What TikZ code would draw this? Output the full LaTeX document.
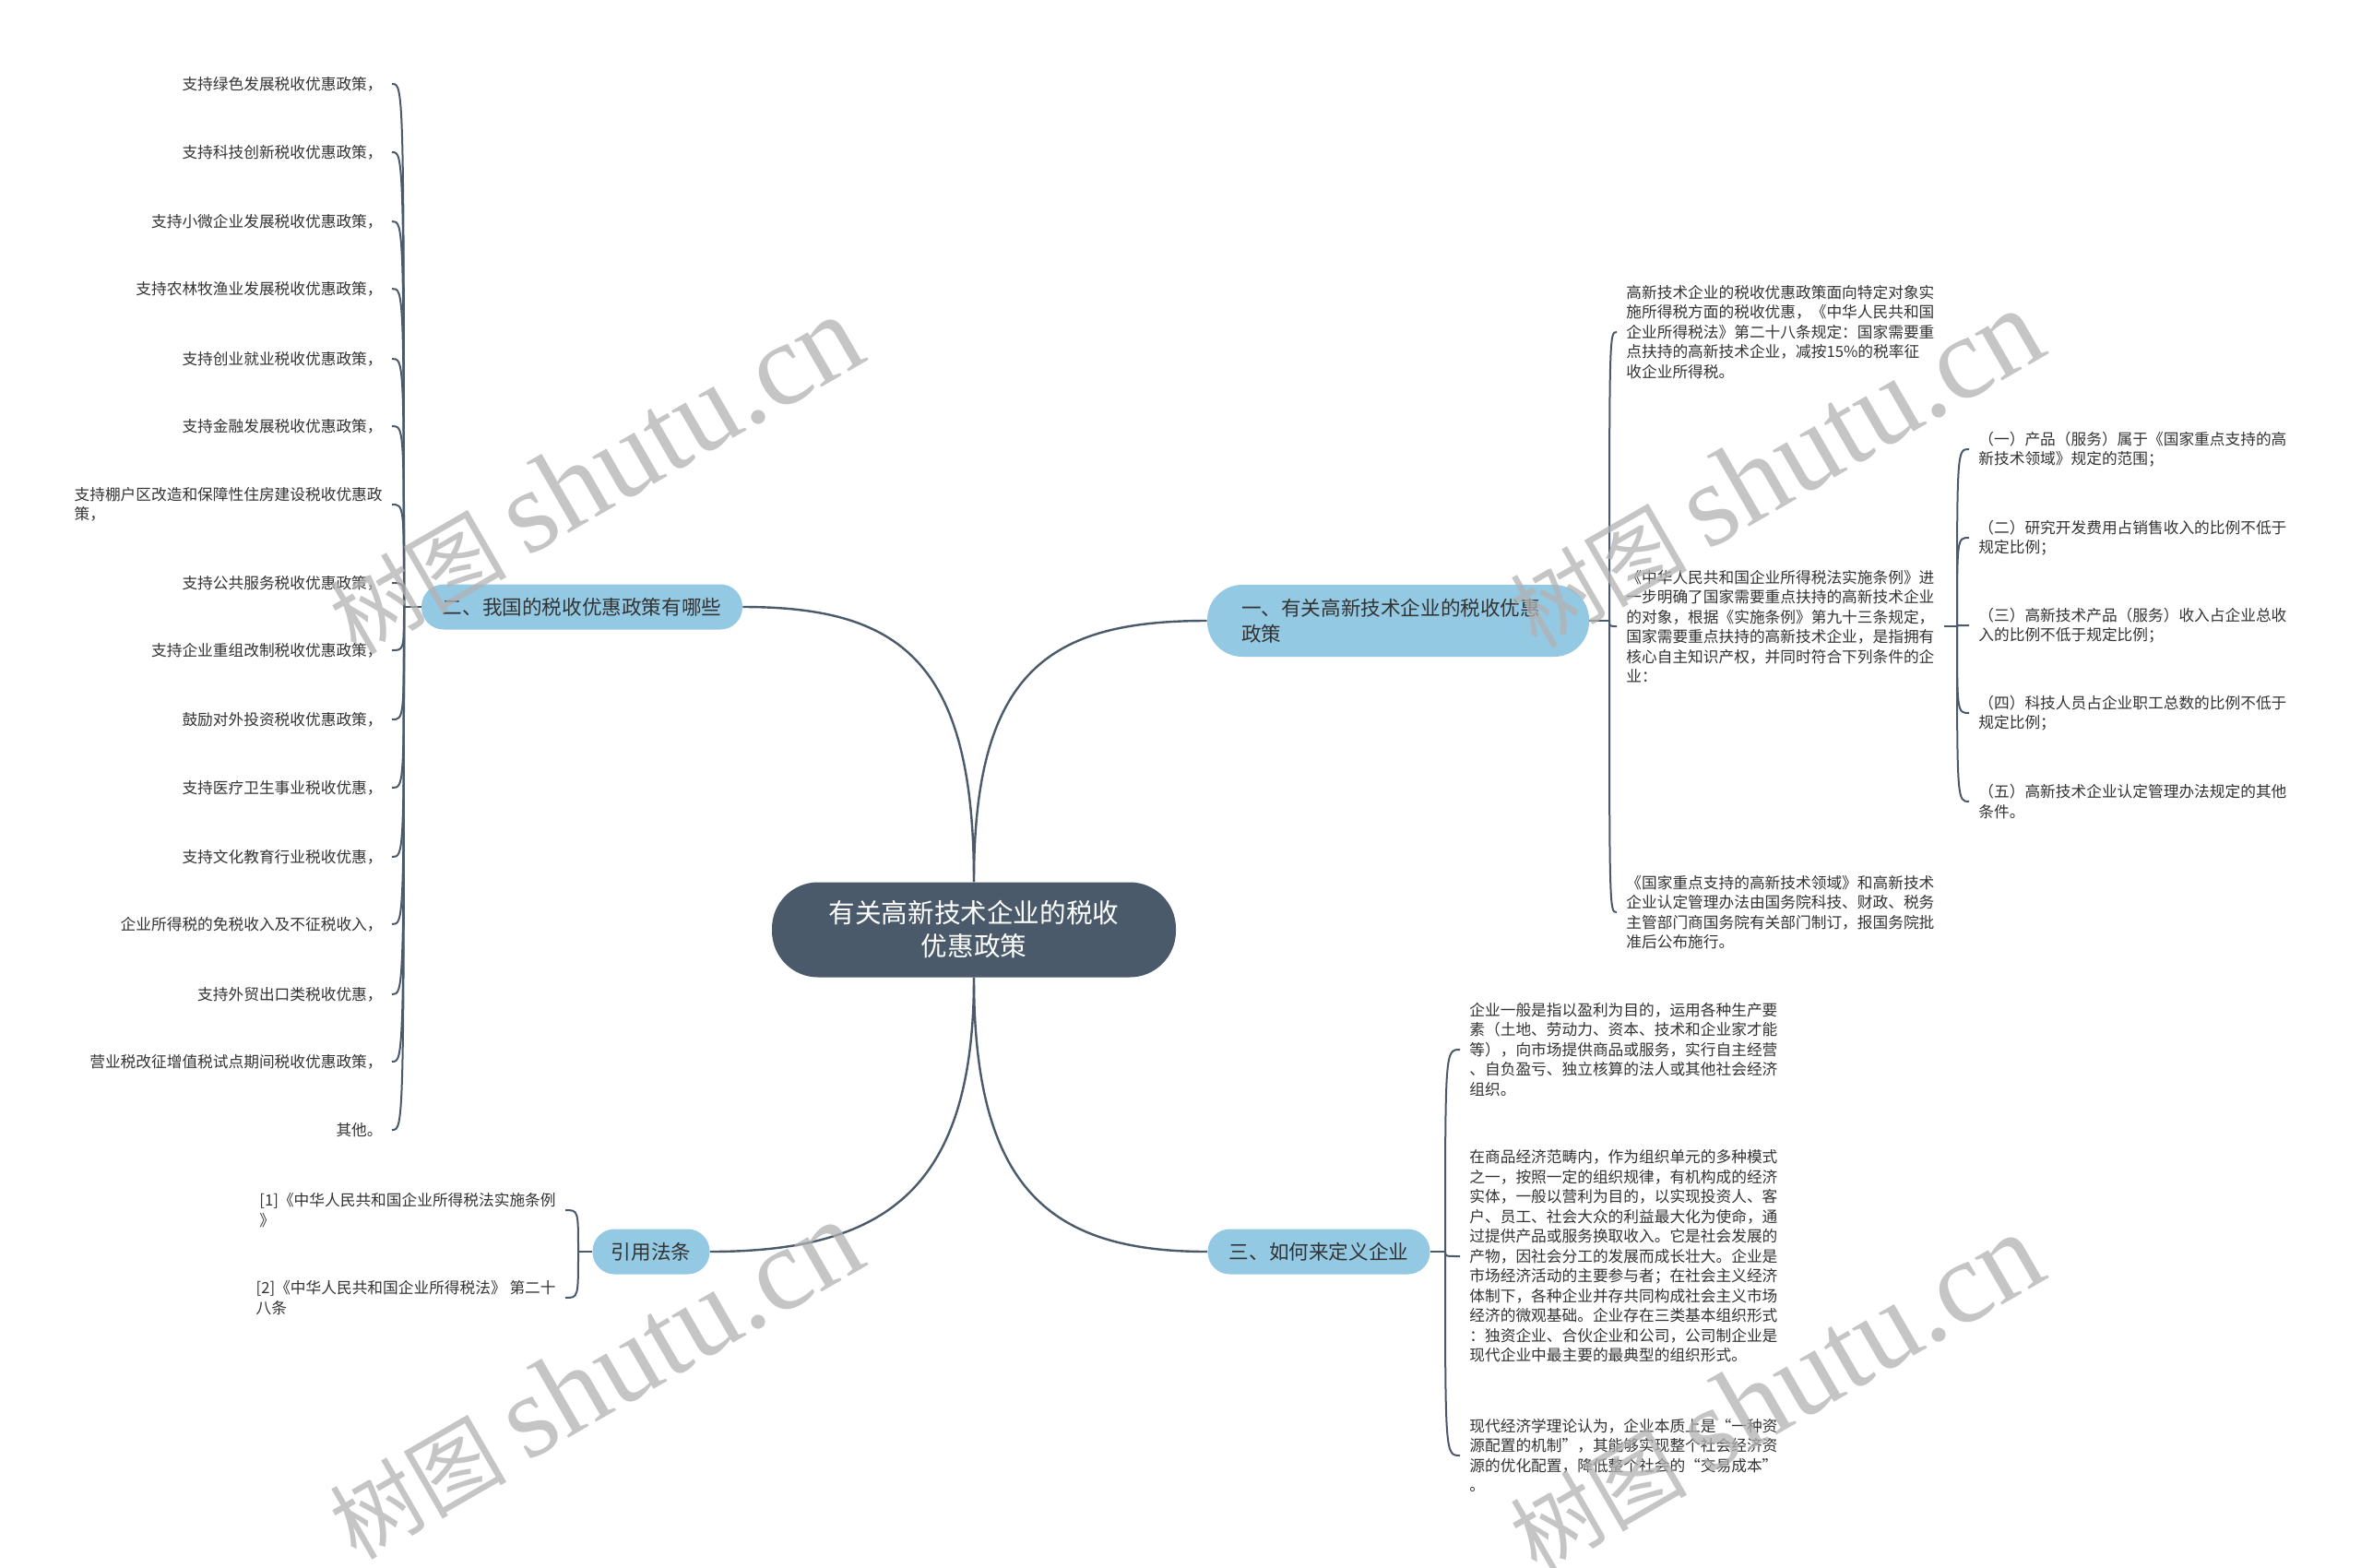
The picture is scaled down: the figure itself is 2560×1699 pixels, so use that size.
\documentclass[tikz,border=0pt]{standalone}
\usepackage{fontspec}
\setmainfont{Noto Sans CJK SC}
\newfontfamily\markfont{Liberation Serif}
\usepackage{xcolor}
\usepackage{tikz}

\definecolor{hubslate}{HTML}{4A5A6A}
\definecolor{topicblue}{HTML}{94C9E3}
\definecolor{twiggray}{HTML}{4A5A6A}
\definecolor{inkgray}{HTML}{333333}

\begin{document}
\begin{tikzpicture}[x=0.5pt,y=-0.5pt,
    hub/.style={fill=hubslate,text=white,rounded corners=25pt,minimum width=219pt,minimum height=51.5pt,align=center,font=\fontsize{14.3}{18}\selectfont},
    topic/.style={fill=topicblue,text=inkgray,rounded corners=12pt,minimum height=24.5pt,inner xsep=0pt,font=\fontsize{10.8}{14}\selectfont},
    leafl/.style={anchor=east,align=left,text=inkgray,inner xsep=5pt,inner ysep=1pt,font=\fontsize{8.35}{10.75}\selectfont},
    leafr/.style={leafl,anchor=west},
    hublink/.style={draw=twiggray,line width=1.2pt},
    twig/.style={draw=twiggray,line width=1pt},
    wmark/.style={text=black!30,opacity=0.75,rotate=30,font=\fontsize{48}{48}\selectfont}]
  \fill[white] (0,0) rectangle (2560,1699);
  \useasboundingbox (0,0) rectangle (2560,1699);

  % centre and main topics
  \node[hub] (hub) at (1056,1008) {有关高新技术企业的税收\\优惠政策};
  \node[topic,minimum width=207pt,minimum height=39pt,rounded corners=19pt,align=left,text width=170pt] (b1) at (1516,673) {一、有关高新技术企业的税收优惠\\政策};
  \node[topic,minimum width=174pt] (b2) at (631,658) {二、我国的税收优惠政策有哪些};
  \node[topic,minimum width=120.5pt] (b3) at (1430,1357) {三、如何来定义企业};
  \node[topic,minimum width=63.5pt] (b4) at (706,1357) {引用法条};

  \draw[hublink] (hub.north) .. controls +(0,-230) and +(-170,0) .. (b1.west);
  \draw[hublink] (hub.north) .. controls +(0,-240) and +(170,0) .. (b2.east);
  \draw[hublink] (hub.south) .. controls +(0,230) and +(-170,0) .. (b3.west);
  \draw[hublink] (hub.south) .. controls +(0,230) and +(190,0) .. (b4.east);

  % topic 2: policies
  \node[leafl] (l1) at (425,91) {支持绿色发展税收优惠政策，};
  \node[leafl] (l2) at (425,165) {支持科技创新税收优惠政策，};
  \node[leafl] (l3) at (425,240) {支持小微企业发展税收优惠政策，};
  \node[leafl] (l4) at (425,313) {支持农林牧渔业发展税收优惠政策，};
  \node[leafl] (l5) at (425,389) {支持创业就业税收优惠政策，};
  \node[leafl] (l6) at (425,462) {支持金融发展税收优惠政策，};
  \node[leafl] (l7) at (425,547) {支持棚户区改造和保障性住房建设税收优惠政\\策，};
  \node[leafl] (l8) at (425,632) {支持公共服务税收优惠政策，};
  \node[leafl] (l9) at (425,705) {支持企业重组改制税收优惠政策，};
  \node[leafl] (l10) at (425,780) {鼓励对外投资税收优惠政策，};
  \node[leafl] (l11) at (425,854) {支持医疗卫生事业税收优惠，};
  \node[leafl] (l12) at (425,929) {支持文化教育行业税收优惠，};
  \node[leafl] (l13) at (425,1002) {企业所得税的免税收入及不征税收入，};
  \node[leafl] (l14) at (425,1078) {支持外贸出口类税收优惠，};
  \node[leafl] (l15) at (425,1151) {营业税改征增值税试点期间税收优惠政策，};
  \node[leafl] (l16) at (425,1225) {其他。};

  \coordinate (b2j) at (438,658);
  \draw[twig] (b2.west) -- (b2j);
  \draw[twig] (b2j) .. controls (b2j |- l1.east) and (b2j |- l1.east) .. (l1.east);
  \draw[twig] (b2j) .. controls (b2j |- l2.east) and (b2j |- l2.east) .. (l2.east);
  \draw[twig] (b2j) .. controls (b2j |- l3.east) and (b2j |- l3.east) .. (l3.east);
  \draw[twig] (b2j) .. controls (b2j |- l4.east) and (b2j |- l4.east) .. (l4.east);
  \draw[twig] (b2j) .. controls (b2j |- l5.east) and (b2j |- l5.east) .. (l5.east);
  \draw[twig] (b2j) .. controls (b2j |- l6.east) and (b2j |- l6.east) .. (l6.east);
  \draw[twig] (b2j) .. controls (b2j |- l7.east) and (b2j |- l7.east) .. (l7.east);
  \draw[twig] (b2j) .. controls (b2j |- l8.east) and (b2j |- l8.east) .. (l8.east);
  \draw[twig] (b2j) .. controls (b2j |- l9.east) and (b2j |- l9.east) .. (l9.east);
  \draw[twig] (b2j) .. controls (b2j |- l10.east) and (b2j |- l10.east) .. (l10.east);
  \draw[twig] (b2j) .. controls (b2j |- l11.east) and (b2j |- l11.east) .. (l11.east);
  \draw[twig] (b2j) .. controls (b2j |- l12.east) and (b2j |- l12.east) .. (l12.east);
  \draw[twig] (b2j) .. controls (b2j |- l13.east) and (b2j |- l13.east) .. (l13.east);
  \draw[twig] (b2j) .. controls (b2j |- l14.east) and (b2j |- l14.east) .. (l14.east);
  \draw[twig] (b2j) .. controls (b2j |- l15.east) and (b2j |- l15.east) .. (l15.east);
  \draw[twig] (b2j) .. controls (b2j |- l16.east) and (b2j |- l16.east) .. (l16.east);

  % cited laws
  \node[leafl] (r1) at (613,1312) {[1]《中华人民共和国企业所得税法实施条例\\》};
  \node[leafl] (r2) at (613,1407) {[2]《中华人民共和国企业所得税法》 第二十\\八条};
  \coordinate (b4j) at (627,1357);
  \draw[twig] (b4.west) -- (b4j);
  \draw[twig] (b4j) .. controls (b4j |- r1.east) and (b4j |- r1.east) .. (r1.east);
  \draw[twig] (b4j) .. controls (b4j |- r2.east) and (b4j |- r2.east) .. (r2.east);

  % topic 1: high-tech enterprises
  \node[leafr] (la) at (1753,360) {高新技术企业的税收优惠政策面向特定对象实\\施所得税方面的税收优惠，《中华人民共和国\\企业所得税法》第二十八条规定：国家需要重\\点扶持的高新技术企业，减按15\%的税率征\\收企业所得税。};
  \node[leafr] (lb) at (1753,679) {《中华人民共和国企业所得税法实施条例》进\\一步明确了国家需要重点扶持的高新技术企业\\的对象，根据《实施条例》第九十三条规定，\\国家需要重点扶持的高新技术企业，是指拥有\\核心自主知识产权，并同时符合下列条件的企\\业：};
  \node[leafr] (lc) at (1753,989) {《国家重点支持的高新技术领域》和高新技术\\企业认定管理办法由国务院科技、财政、税务\\主管部门商国务院有关部门制订，报国务院批\\准后公布施行。};
  \coordinate (b1j) at (1745,673);
  \draw[twig] (b1.east) -- (b1j);
  \draw[twig] (b1j) .. controls (b1j |- la.west) and (b1j |- la.west) .. (la.west);
  \draw[twig] (b1j) .. controls (b1j |- lb.west) and (b1j |- lb.west) .. (lb.west);
  \draw[twig] (b1j) .. controls (b1j |- lc.west) and (b1j |- lc.west) .. (lc.west);

  % conditions
  \node[leafr] (s1) at (2135,487) {（一）产品（服务）属于《国家重点支持的高\\新技术领域》规定的范围；};
  \node[leafr] (s2) at (2135,583) {（二）研究开发费用占销售收入的比例不低于\\规定比例；};
  \node[leafr] (s3) at (2135,678) {（三）高新技术产品（服务）收入占企业总收\\入的比例不低于规定比例；};
  \node[leafr] (s4) at (2135,773) {（四）科技人员占企业职工总数的比例不低于\\规定比例；};
  \node[leafr] (s5) at (2135,869) {（五）高新技术企业认定管理办法规定的其他\\条件。};
  \coordinate (lbj) at (2122,679);
  \draw[twig] (lb.east) -- (lbj);
  \draw[twig] (lbj) .. controls (lbj |- s1.west) and (lbj |- s1.west) .. (s1.west);
  \draw[twig] (lbj) .. controls (lbj |- s2.west) and (lbj |- s2.west) .. (s2.west);
  \draw[twig] (lbj) .. controls (lbj |- s3.west) and (lbj |- s3.west) .. (s3.west);
  \draw[twig] (lbj) .. controls (lbj |- s4.west) and (lbj |- s4.west) .. (s4.west);
  \draw[twig] (lbj) .. controls (lbj |- s5.west) and (lbj |- s5.west) .. (s5.west);

  % topic 3: what an enterprise is
  \node[leafr] (ld) at (1583,1138) {企业一般是指以盈利为目的，运用各种生产要\\素（土地、劳动力、资本、技术和企业家才能\\等），向市场提供商品或服务，实行自主经营\\、自负盈亏、独立核算的法人或其他社会经济\\组织。};
  \node[leafr] (le) at (1583,1362) {在商品经济范畴内，作为组织单元的多种模式\\之一，按照一定的组织规律，有机构成的经济\\实体，一般以营利为目的，以实现投资人、客\\户、员工、社会大众的利益最大化为使命，通\\过提供产品或服务换取收入。它是社会发展的\\产物，因社会分工的发展而成长壮大。企业是\\市场经济活动的主要参与者；在社会主义经济\\体制下，各种企业并存共同构成社会主义市场\\经济的微观基础。企业存在三类基本组织形式\\：独资企业、合伙企业和公司，公司制企业是\\现代企业中最主要的最典型的组织形式。};
  \node[leafr] (lf) at (1583,1578) {现代经济学理论认为，企业本质上是“一种资\\源配置的机制”，其能够实现整个社会经济资\\源的优化配置，降低整个社会的“交易成本”\\。};
  \coordinate (b3j) at (1567,1357);
  \draw[twig] (b3.east) -- (b3j);
  \draw[twig] (b3j) .. controls (b3j |- ld.west) and (b3j |- ld.west) .. (ld.west);
  \draw[twig] (b3j) .. controls (b3j |- le.west) and (b3j |- le.west) .. (le.west);
  \draw[twig] (b3j) .. controls (b3j |- lf.west) and (b3j |- lf.west) .. (lf.west);

  % watermarks
  \node[wmark] (wm1) at (645,515) {树图 {\markfont\fontsize{64}{64}\selectfont shutu.cn}};
  \node[wmark] (wm2) at (1925,508) {树图 {\markfont\fontsize{64}{64}\selectfont shutu.cn}};
  \node[wmark] (wm3) at (645,1496) {树图 {\markfont\fontsize{64}{64}\selectfont shutu.cn}};
  \node[wmark] (wm4) at (1925,1510) {树图 {\markfont\fontsize{64}{64}\selectfont shutu.cn}};
\end{tikzpicture}
\end{document}
